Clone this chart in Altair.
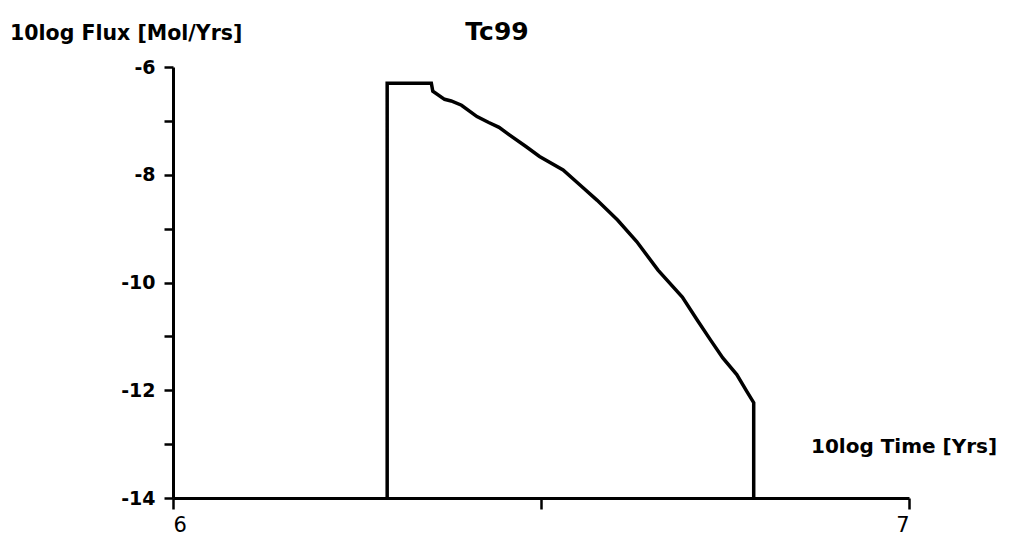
import altair as alt
import pandas as pd

# Outline of the Tc99 release curve (10log time vs 10log flux)
time = [6.291, 6.291, 6.351, 6.353, 6.369, 6.378, 6.392, 6.413, 6.429, 6.443,
        6.457, 6.480, 6.498, 6.530, 6.553, 6.576, 6.604, 6.630, 6.659, 6.692,
        6.712, 6.730, 6.747, 6.766, 6.780, 6.789, 6.789]
flux = [-14.0, -6.30, -6.30, -6.45, -6.60, -6.63, -6.71, -6.92, -7.03, -7.12,
        -7.26, -7.48, -7.66, -7.91, -8.19, -8.47, -8.84, -9.24, -9.77, -10.27,
        -10.69, -11.06, -11.40, -11.71, -12.03, -12.23, -14.0]

x_ticks = [6, 6.5, 7]
y_ticks = [-14, -13, -12, -11, -10, -9, -8, -7, -6]

title_text = "Tc99"
y_title = "10log Flux [Mol/Yrs]"
x_title = "10log Time [Yrs]"

df = pd.DataFrame({"t": time, "f": flux, "o": list(range(len(time)))})

FONT = "DejaVu Sans"

line = alt.Chart(df).mark_line(color="black", strokeWidth=3.5, strokeJoin="miter").encode(
    x=alt.X("t:Q", scale=alt.Scale(domain=[6, 7], nice=False, zero=False),
            axis=alt.Axis(values=x_ticks, title=None,
                          labelExpr="datum.value == 6.5 ? '' : '' + datum.value",
                          tickSize=11, tickWidth=2.5,
                          domainWidth=3, domainColor="black", tickColor="black",
                          labelPadding=5, labelFontSize=21, labelFont=FONT,
                          labelColor="black", grid=False)),
    y=alt.Y("f:Q", scale=alt.Scale(domain=[-14, -6], nice=False, zero=False),
            axis=alt.Axis(values=y_ticks, title=None,
                          labelExpr="datum.value % 2 == 0 ? '' + datum.value : ''",
                          tickSize=9, tickWidth=2.5, domainWidth=3,
                          domainColor="black", tickColor="black",
                          labelPadding=9, labelFontSize=19, labelFont=FONT,
                          labelFontWeight="bold",
                          labelColor="black", grid=False)),
    order="o:Q",
)

one = pd.DataFrame({"a": [0]})

t_title = alt.Chart(one).mark_text(
    text=title_text, font=FONT, fontSize=25, fontWeight="bold",
    align="center", baseline="alphabetic", color="black"
).encode(x=alt.value(324), y=alt.value(-27))

t_y = alt.Chart(one).mark_text(
    text=y_title, font=FONT, fontSize=20.5, fontWeight="bold",
    align="left", baseline="alphabetic", color="black"
).encode(x=alt.value(-163), y=alt.value(-27))

t_x = alt.Chart(one).mark_text(
    text=x_title, font=FONT, fontSize=20, fontWeight="bold",
    align="left", baseline="alphabetic", color="black"
).encode(x=alt.value(638), y=alt.value(386))

chart = alt.layer(line, t_title, t_y, t_x).properties(
    width=736, height=431,
    autosize=alt.AutoSizeParams(type="none"),
    padding={"left": 165, "top": 59, "right": 90, "bottom": 42},
    background="white",
).configure_view(stroke=None)

chart.save("out.html", embed_options={"renderer": "svg", "actions": False})
